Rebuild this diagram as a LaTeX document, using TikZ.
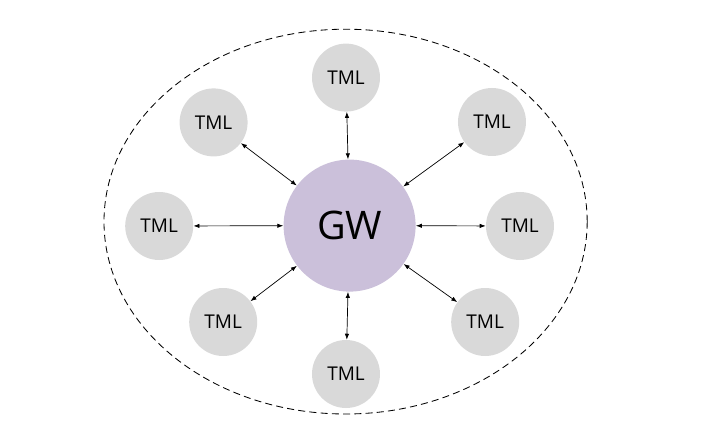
\documentclass[tikz,border=0pt]{standalone}
\usepackage{fontspec}
\setmainfont{Open Sans}
\usepackage{tikz}
\usetikzlibrary{arrows.meta, positioning}
\definecolor{gwlilac}{RGB}{203,192,218}
\definecolor{tmlgray}{RGB}{217,217,217}
\tikzset{
    tmlnode/.style={circle, fill=tmlgray, draw=none, minimum size=1.7cm,
                    inner sep=0pt, font=\fontsize{13.5}{15}\selectfont},
    gwnode/.style={circle, fill=gwlilac, draw=none, minimum size=3.3cm,
                   inner sep=0pt, font=\fontsize{28}{31}\selectfont},
    link/.style={{Latex[length=1.5mm,width=1.1mm]}-{Latex[length=1.5mm,width=1.1mm]},
                 line width=0.5pt, draw=black},
    zone/.style={draw=black, line width=0.6pt, dash pattern=on 5pt off 3pt},
}
\begin{document}
\begin{tikzpicture}
    \useasboundingbox (-8.74, -5.44) rectangle (8.86, 5.64);
    \draw[zone] (-0.1, 0.1) ellipse [x radius=6.04cm, y radius=4.81cm];
    \node[gwnode] (gw) at (0, 0) {GW};
    \node[tmlnode] (tn) at (-0.09, 3.70) {TML};
    \node[tmlnode] (tnw) at (-3.40, 2.58) {TML};
    \node[tmlnode] (tne) at (3.56, 2.59) {TML};
    \node[tmlnode] (tw) at (-4.76, -0.01) {TML};
    \node[tmlnode] (te) at (4.26, -0.01) {TML};
    \node[tmlnode] (tsw) at (-3.16, -2.41) {TML};
    \node[tmlnode] (tse) at (3.39, -2.41) {TML};
    \node[tmlnode] (ts) at (-0.09, -3.71) {TML};
    \draw[link] (tn) -- (gw);
    \draw[link] (tnw) -- (gw);
    \draw[link] (tne) -- (gw);
    \draw[link] (tw) -- (gw);
    \draw[link] (te) -- (gw);
    \draw[link] (tsw) -- (gw);
    \draw[link] (tse) -- (gw);
    \draw[link] (ts) -- (gw);
\end{tikzpicture}
\end{document}
